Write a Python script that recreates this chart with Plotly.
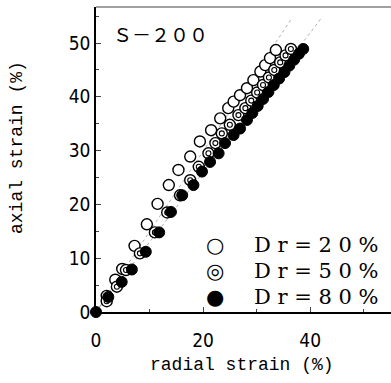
import plotly.graph_objects as go

# Dr = 20 % (open circles)
dr20_x = [2.0, 3.6, 4.9, 7.2, 9.5, 11.5, 13.6, 15.4, 17.6, 19.4, 21.5, 23.2, 24.7, 25.7, 26.9, 28.2, 29.4, 30.7, 31.6, 32.5, 33.6]
dr20_y = [3.0, 6.0, 8.0, 12.3, 16.3, 20.1, 23.6, 26.4, 28.9, 31.7, 33.8, 36.0, 37.9, 39.1, 40.3, 41.6, 43.1, 44.7, 45.9, 47.2, 48.7]
# Dr = 50 % (double circles)
dr50_x = [2.0, 3.9, 5.6, 8.2, 11.0, 13.3, 15.7, 17.6, 19.2, 21.0, 22.3, 23.5, 25.0, 26.6, 27.9, 29.0, 30.1, 31.2, 32.3, 33.3, 34.4, 35.4, 36.4]
dr50_y = [2.0, 4.7, 7.8, 10.9, 14.8, 18.5, 21.7, 24.5, 27.0, 29.5, 31.4, 33.2, 34.8, 36.6, 37.9, 39.3, 40.8, 42.2, 43.6, 45.0, 46.4, 47.7, 48.9]
# Dr = 80 % (filled circles)
dr80_x = [0, 2.3, 4.8, 6.7, 9.3, 11.8, 14.0, 16.1, 18.2, 19.8, 21.3, 22.9, 24.1, 25.7, 26.9, 28.2, 29.2, 30.2, 31.2, 32.2, 33.2, 34.2, 35.2, 36.1, 37.0, 37.9, 38.7]
dr80_y = [0, 2.8, 5.6, 7.9, 11.2, 14.8, 18.6, 21.7, 23.6, 26.1, 27.9, 29.5, 31.4, 32.9, 34.1, 35.7, 37.0, 38.3, 39.6, 40.9, 42.2, 43.4, 44.6, 45.8, 46.9, 48.0, 48.9]
# faint dotted reference lines
ref1_x = [0, 36.5]
ref1_y = [0, 54.5]
ref2_x = [0, 42.0]
ref2_y = [0, 54.5]

x_ticks = [0, 20, 40]
y_ticks = [0, 10, 20, 30, 40, 50]
legend_symbols = ["○", "◎", "●"]
legend_labels = ["D r = 2 0 %", "D r = 5 0 %", "D r = 8 0 %"]
panel_label = "Ｓ－２００"

fig = go.Figure()
for rx, ry in [(ref1_x, ref1_y), (ref2_x, ref2_y)]:
    fig.add_trace(go.Scatter(x=rx, y=ry, mode="lines",
                             line=dict(color="#b0b0b0", width=1, dash="dot"),
                             showlegend=False, hoverinfo="skip"))
fig.add_trace(go.Scatter(x=dr20_x, y=dr20_y, mode="markers", cliponaxis=False,
                         marker=dict(symbol="circle", size=11, color="white",
                                     line=dict(color="black", width=1.4)),
                         showlegend=False))
fig.add_trace(go.Scatter(x=dr50_x, y=dr50_y, mode="markers", cliponaxis=False,
                         marker=dict(symbol="circle", size=11, color="white",
                                     line=dict(color="black", width=1.4)),
                         showlegend=False))
fig.add_trace(go.Scatter(x=dr50_x, y=dr50_y, mode="markers", cliponaxis=False,
                         marker=dict(symbol="circle-open", size=5, color="black",
                                     line=dict(color="black", width=1.1)),
                         showlegend=False))
fig.add_trace(go.Scatter(x=dr80_x, y=dr80_y, mode="markers", cliponaxis=False,
                         marker=dict(symbol="circle", size=11, color="black",
                                     line=dict(color="black", width=1)),
                         showlegend=False))

tick_font = dict(family="Liberation Sans Narrow, DejaVu Sans Condensed, Liberation Sans", size=19, color="black")
title_font = dict(family="Liberation Mono, DejaVu Sans Mono", size=18, color="black")

fig.update_layout(
    width=391, height=383,
    margin=dict(l=96, r=0, t=7, b=71),
    paper_bgcolor="white", plot_bgcolor="white",
    xaxis=dict(range=[0, 55.1], tickvals=x_ticks, ticks="inside", ticklen=5,
               tickwidth=1, showgrid=False, zeroline=False, showline=True,
               linecolor="black", linewidth=2, tickfont=tick_font,
               ticklabelstandoff=10,
               minor=dict(tickvals=[10, 30, 50], ticks="inside", ticklen=3)),
    yaxis=dict(range=[0, 56.7], tickvals=y_ticks, ticks="inside", ticklen=5,
               tickwidth=1, showgrid=False, zeroline=False, showline=True,
               linecolor="black", linewidth=1.5, tickfont=tick_font,
               ticklabelstandoff=0,
               minor=dict(tickvals=[5, 15, 25, 35, 45, 55], ticks="inside", ticklen=3)),
    shapes=[dict(type="line", xref="paper", yref="paper", x0=0, x1=1, y0=1, y1=1,
                 line=dict(color="#444", width=1))],
)

fig.add_annotation(text="radial strain (%)", xref="paper", yref="paper",
                   x=(242 - 96) / 295, y=-(365 - 312) / 305, showarrow=False,
                   font=title_font, xanchor="center", yanchor="middle")
fig.add_annotation(text="axial strain (%)", xref="paper", yref="paper",
                   x=-(96 - 17) / 295, y=(312 - 148) / 305, showarrow=False,
                   textangle=-90, font=title_font, xanchor="center", yanchor="middle")
fig.add_annotation(text=panel_label, xref="paper", yref="paper",
                   x=(111 - 96) / 295, y=(312 - 33) / 305, showarrow=False,
                   font=dict(family="Noto Sans CJK JP", size=19, color="black"),
                   xanchor="left", yanchor="middle")
for i in range(3):
    yc = [245, 271, 297][i]
    fig.add_annotation(text=legend_symbols[i], xref="paper", yref="paper",
                       x=(215 - 96) / 295, y=(312 - yc) / 305, showarrow=False,
                       font=dict(family="DejaVu Sans", size=21, color="black"),
                       xanchor="center", yanchor="middle")
    fig.add_annotation(text=legend_labels[i], xref="paper", yref="paper",
                       x=(252 - 96) / 295, y=(312 - yc) / 305, showarrow=False,
                       font=dict(family="DejaVu Serif", size=21, color="black"),
                       xanchor="left", yanchor="middle")

fig.write_html("out.html")
